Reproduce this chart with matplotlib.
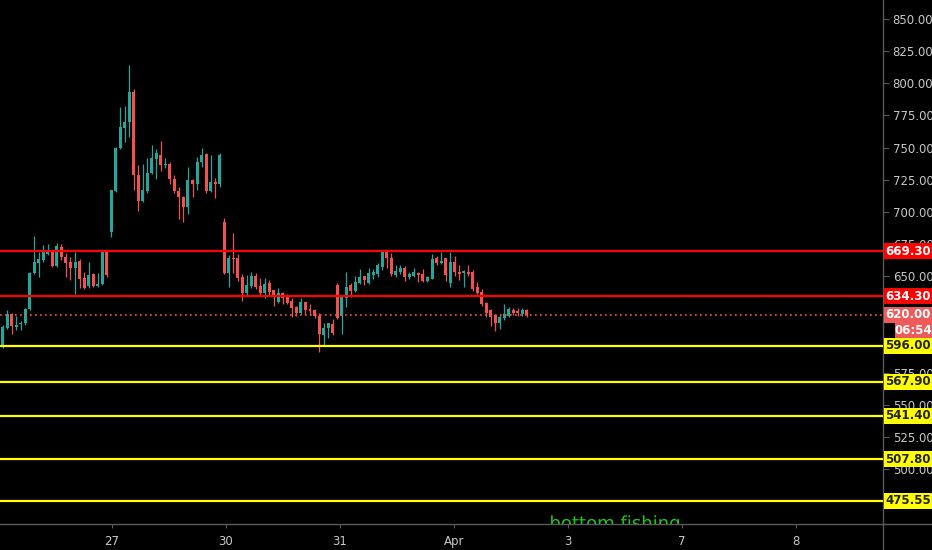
import numpy as np
import matplotlib
matplotlib.use("Agg")
import matplotlib.pyplot as plt
import matplotlib.transforms as mtransforms
from matplotlib.patches import Rectangle, PathPatch
from matplotlib.textpath import TextPath

# 15-min candles (open, high, low, close)
opens = [595.2, 609.5, 620.4, 610.8, 612.6, 613.4, 624.3, 652.3, 660.6, 662.6,
         667.3, 669.1, 658.2, 673.0, 665.2, 660.8, 656.2, 662.1, 648.4, 642.4,
         651.5, 642.6, 644.0, 668.6, 684.4, 716.3, 749.7, 765.3, 770.0, 793.3,
         728.7, 708.5, 716.3, 730.3, 741.0, 744.3, 736.5, 737.3, 725.6, 716.3,
         711.6, 703.8, 724.8, 721.7, 738.8, 745.0, 716.3, 723.3, 721.7, 692.4,
         652.8, 664.2, 664.2, 649.4, 637.0, 642.4, 650.2, 642.4, 637.0, 644.7,
         639.3, 630.2, 637.0, 633.9, 630.8, 626.1, 621.4, 630.0, 624.5, 623.7,
         619.0, 604.3, 609.8, 612.8, 643.2, 619.0, 632.8, 643.2, 638.8, 644.5,
         650.2, 645.0, 651.0, 651.7, 656.9, 669.0, 664.0, 651.0, 653.5, 656.2,
         649.0, 650.2, 652.7, 651.7, 646.5, 648.0, 664.0, 660.0, 664.0, 645.0,
         661.3, 653.5, 652.7, 653.5, 653.5, 641.4, 638.0, 629.4, 623.7, 619.9,
         613.4, 617.3, 619.0, 623.7, 623.2, 620.6, 623.7]
highs = [612.1, 623.7, 621.0, 619.3, 614.8, 625.0, 653.0, 681.3, 669.1, 674.3,
         675.1, 669.5, 675.6, 675.1, 667.8, 665.2, 668.6, 663.2, 653.5, 660.8,
         652.7, 652.3, 669.5, 669.5, 717.1, 750.5, 781.6, 782.4, 814.3, 795.6,
         736.5, 737.3, 742.0, 752.0, 749.0, 755.2, 742.0, 739.0, 729.0, 719.0,
         712.4, 735.0, 725.6, 742.7, 749.7, 745.8, 744.3, 726.4, 746.0, 695.3,
         666.5, 683.6, 667.3, 651.7, 651.0, 653.0, 652.5, 648.6, 648.6, 647.0,
         639.3, 640.9, 637.7, 636.0, 633.0, 626.8, 633.0, 630.0, 628.0, 624.5,
         621.0, 613.6, 614.0, 616.7, 644.7, 634.0, 653.5, 645.0, 650.2, 655.6,
         650.2, 656.4, 655.6, 660.5, 669.5, 670.4, 668.0, 658.7, 658.7, 658.0,
         653.0, 656.0, 653.5, 655.6, 650.4, 667.0, 665.5, 669.0, 664.0, 669.0,
         665.5, 658.7, 654.8, 658.7, 654.8, 645.7, 639.8, 630.2, 624.5, 620.6,
         620.0, 628.4, 626.3, 625.6, 625.6, 625.0, 624.5]
lows = [594.0, 609.0, 605.1, 608.2, 608.5, 612.1, 623.5, 652.0, 649.6, 661.3,
        666.5, 657.5, 657.5, 662.6, 649.6, 647.0, 636.2, 640.6, 640.0, 640.6,
        641.9, 641.4, 643.0, 649.6, 680.5, 715.5, 748.9, 754.4, 758.3, 717.1,
        700.7, 707.7, 714.7, 729.5, 725.6, 731.8, 734.0, 721.7, 714.7, 694.5,
        692.2, 698.4, 711.6, 717.1, 735.0, 715.0, 715.5, 710.8, 719.0, 652.0,
        641.6, 652.8, 646.0, 630.8, 634.7, 641.0, 640.0, 634.6, 633.0, 635.5,
        627.0, 629.0, 628.4, 628.5, 618.3, 619.0, 620.6, 620.0, 620.0, 617.5,
        591.3, 596.5, 602.0, 604.3, 616.8, 605.0, 626.3, 633.6, 638.0, 644.0,
        643.0, 644.0, 647.8, 649.0, 655.0, 656.0, 650.0, 649.6, 652.0, 646.5,
        647.8, 649.4, 645.7, 645.7, 645.7, 647.6, 658.5, 659.5, 646.5, 641.4,
        650.0, 647.0, 641.8, 650.0, 638.7, 636.0, 626.8, 618.0, 611.3, 607.7,
        609.0, 616.0, 618.0, 620.0, 618.8, 618.8, 618.0]
closes = [610.3, 620.4, 611.3, 612.1, 613.9, 624.3, 652.3, 660.8, 663.2, 668.6,
          669.1, 658.2, 673.5, 665.2, 660.1, 656.2, 661.3, 647.6, 640.6, 651.0,
          642.4, 644.0, 668.6, 651.0, 717.1, 749.7, 766.0, 770.0, 793.3, 728.7,
          708.5, 717.1, 730.3, 742.0, 745.8, 736.5, 737.3, 725.6, 716.3, 711.6,
          703.8, 724.8, 721.7, 738.8, 744.3, 716.3, 723.3, 721.7, 744.3, 652.8,
          664.2, 663.0, 648.6, 637.0, 643.2, 650.2, 641.6, 637.0, 644.0, 637.7,
          635.4, 637.2, 633.0, 629.2, 625.3, 621.4, 630.0, 623.7, 623.0, 619.0,
          605.1, 609.8, 613.6, 605.8, 617.3, 633.6, 641.8, 638.8, 645.7, 649.4,
          647.0, 652.3, 653.5, 658.7, 669.0, 664.0, 651.7, 654.3, 656.2, 649.0,
          651.7, 653.0, 651.0, 646.5, 649.6, 663.0, 660.0, 662.1, 651.0, 661.3,
          653.5, 651.7, 654.2, 651.7, 639.8, 637.2, 628.4, 621.6, 618.0, 613.9,
          618.0, 620.6, 624.3, 621.2, 621.2, 623.7, 620.0]

day_labels = ["27", "30", "31", "Apr", "3", "7", "8"]
red_levels = [669.30, 634.30]
yellow_levels = [596.00, 567.90, 541.40, 507.80, 475.55]
last_price = 620.00
countdown = "06:54"
note = "bottom fishing"

UP = "#26a69a"
DOWN = "#ef5350"
AXIS_TXT = "#c8c8c8"
GRID = "#5a5a5a"

fig = plt.figure(figsize=(9.32, 5.5), dpi=100, facecolor="black")
ax = fig.add_axes([0, 26 / 550, 883 / 932, 524 / 550], facecolor="black")

o = np.array(opens)
h = np.array(highs)
l = np.array(lows)
c = np.array(closes)
x = np.arange(len(o))
cols = np.where(c >= o, UP, DOWN)

ax.vlines(x, l, h, colors=cols, linewidth=0.9, zorder=2)
ax.bar(x, np.maximum(np.abs(c - o), 0.6), bottom=np.minimum(o, c),
       width=0.66, color=cols, linewidth=0, zorder=3)

for lv in red_levels:
    ax.axhline(lv, color="#ff0000", linewidth=1.6, zorder=4)
for lv in yellow_levels:
    ax.axhline(lv, color="#ffff00", linewidth=1.6, zorder=4)
ax.axhline(last_price, color=DOWN, linewidth=1.2, linestyle=(0, (1, 2)), zorder=4)

ax.set_xlim(-0.6, 194.8)
ax.set_ylim(457.3, 864.8)

# day ticks (25 bars per session)
ax.set_xticks([24.2 + 25.22 * k for k in range(len(day_labels))])
ax.set_xticklabels(day_labels)
yt = np.arange(500, 851, 25)
ax.set_yticks(yt)
# 600 and 625 sit fully under the price tags, so their text is left blank
ax.set_yticklabels(["" if v in (600, 625) else f"{v:.2f}" for v in yt])
ax.yaxis.tick_right()
ax.tick_params(axis="y", colors=GRID, labelcolor=AXIS_TXT, labelsize=8.5,
               length=4, pad=3)
ax.tick_params(axis="x", colors=GRID, labelcolor=AXIS_TXT, labelsize=8.5,
               length=3, pad=5)
for s in ["top", "left"]:
    ax.spines[s].set_visible(False)
for s in ["right", "bottom"]:
    ax.spines[s].set_color(GRID)
    ax.spines[s].set_linewidth(1.0)

# extend the axis frame lines to the figure edges
fig.add_artist(plt.Line2D([883 / 932, 883 / 932], [0, 26 / 550], color=GRID, lw=1.0))
fig.add_artist(plt.Line2D([883 / 932, 1], [26 / 550, 26 / 550], color=GRID, lw=1.0))

trans = mtransforms.blended_transform_factory(ax.transAxes, ax.transData)
px = 1 / 1.286  # price units per pixel


def price_tag(y, text, bg, fg, x0=884, x1=932, hpx=16):
    a0, a1 = x0 / 883, x1 / 883
    ax.add_patch(Rectangle((a0, y - hpx / 2 * px), a1 - a0, hpx * px,
                           transform=trans, facecolor=bg, edgecolor="none",
                           clip_on=False, zorder=10))
    ax.text((a0 + a1) / 2, y, text, transform=trans, ha="center", va="center",
            color=fg, fontsize=8.5, fontweight="bold", clip_on=False, zorder=11)


for lv in red_levels:
    price_tag(lv, f"{lv:.2f}", "#ff0000", "white")
price_tag(last_price, f"{last_price:.2f}", "#ef5b5b", "white")
price_tag(last_price - 12.0, countdown, "#ef5b5b", "white", x0=895)
for lv in yellow_levels:
    price_tag(lv, f"{lv:.2f}", "#ffff00", "#222222")

# the note sits low on the chart, so only its top shows above the time axis;
# drawn as a path so the axes clip it
tp = TextPath((0, 0), note, size=13)
ext = tp.get_extents()
anchor = ax.transData.transform((135.5, 457.3))
note_tr = (mtransforms.Affine2D().translate(-(ext.x0 + ext.x1) / 2, 0)
           .scale(fig.dpi / 72).translate(anchor[0], anchor[1] - 5))
ax.add_patch(PathPatch(tp, transform=note_tr, facecolor="#1fc41f",
                       edgecolor="none", zorder=6))
ax.set_xlim(-0.6, 194.8)
ax.set_ylim(457.3, 864.8)

fig.savefig("out.png", dpi=100, facecolor="black")
